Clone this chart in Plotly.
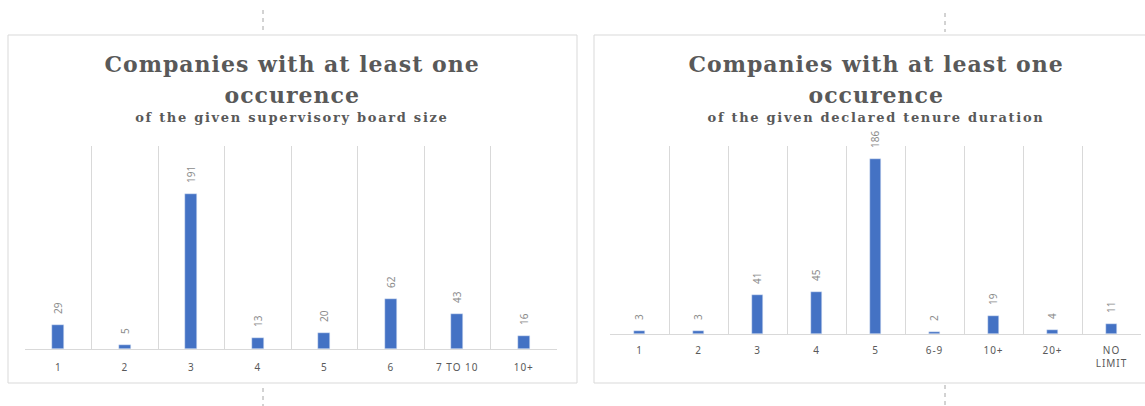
import plotly.graph_objects as go

# Supervisory board size distribution
board_sizes = ["1", "2", "3", "4", "5", "6", "7 TO 10", "10+"]
board_counts = [29, 5, 191, 13, 20, 62, 43, 16]

# Declared tenure duration distribution
tenure_labels = ["1", "2", "3", "4", "5", "6-9", "10+", "20+", "NO<br>LIMIT"]
tenure_counts = [3, 3, 41, 45, 186, 2, 19, 4, 11]

W, H = 1145, 406
BAR = "#4472C4"
GRID = "#d9d9d9"
TXT = "#595959"
LBL = "#8c8c8c"
PAD = "\u00a0\u00a0\u00a0"  # small gap between a bar top and its value label


def px_x(x):
    return x / W


def px_y(y):
    return 1 - y / H


fig = go.Figure()

fig.add_trace(go.Bar(
    x=board_sizes, y=board_counts, width=0.18, marker_color=BAR,
    text=[PAD + str(v) for v in board_counts], textposition="outside", textangle=-90,
    textfont=dict(family="Noto Sans", size=10, color=LBL), constraintext="none",
    cliponaxis=False, xaxis="x", yaxis="y", showlegend=False,
))
fig.add_trace(go.Bar(
    x=tenure_labels, y=tenure_counts, width=0.17, marker_color=BAR,
    text=[PAD + str(v) for v in tenure_counts], textposition="outside", textangle=-90,
    textfont=dict(family="Noto Sans", size=10, color=LBL), constraintext="none",
    cliponaxis=False, xaxis="x2", yaxis="y2", showlegend=False,
))

xcommon = dict(type="category", tickson="boundaries", showgrid=True, gridcolor=GRID,
               gridwidth=1, showline=True, linecolor=GRID, linewidth=1, ticks="",
               tickfont=dict(family="Noto Sans", size=10, color=TXT), zeroline=False)
ycommon = dict(showgrid=False, showticklabels=False, zeroline=False, showline=False, ticks="")

fig.update_layout(
    width=W, height=H, margin=dict(l=0, r=0, t=0, b=0),
    paper_bgcolor="white", plot_bgcolor="white",
    xaxis=dict(domain=[px_x(25), px_x(557)], anchor="y", ticklabelstandoff=9, **xcommon),
    yaxis=dict(domain=[px_y(349), px_y(146)], range=[0, 250], anchor="x", **ycommon),
    xaxis2=dict(domain=[px_x(610), px_x(1141)], anchor="y2", ticklabelstandoff=7, **xcommon),
    yaxis2=dict(domain=[px_y(334), px_y(146)], range=[0, 200], anchor="x2", **ycommon),
    bargap=0,
)

# Chart frames
shapes = [
    dict(type="rect", xref="paper", yref="paper", x0=px_x(8), x1=px_x(577),
         y0=px_y(383), y1=px_y(35), line=dict(color=GRID, width=1)),
    dict(type="rect", xref="paper", yref="paper", x0=px_x(594), x1=px_x(1160),
         y0=px_y(383), y1=px_y(35), line=dict(color=GRID, width=1)),
]
# Dashed guide marks above and below each frame
for x, ya, yb in [(263, 10, 32), (263, 388, 406), (945, 13, 32), (945, 385, 406)]:
    shapes.append(dict(type="line", xref="paper", yref="paper", x0=px_x(x), x1=px_x(x),
                       y0=px_y(ya), y1=px_y(yb),
                       line=dict(color="#a6a6a6", width=1, dash="4px,4px")))
fig.update_layout(shapes=shapes)

TITLE_FONT = dict(family="DejaVu Serif", size=22, color=TXT, weight="bold")
SUB_FONT = dict(family="DejaVu Serif", size=13, color=TXT, weight="bold")

annotations = []
for cx, sub in [(292, "of the given supervisory board size"),
                (876, "of the given declared tenure duration")]:
    annotations.append(dict(x=px_x(cx), y=px_y(64), xref="paper", yref="paper",
                            text="Companies with at least one", showarrow=False,
                            font=TITLE_FONT, xanchor="center", yanchor="middle"))
    annotations.append(dict(x=px_x(cx), y=px_y(95), xref="paper", yref="paper",
                            text="occurence", showarrow=False,
                            font=TITLE_FONT, xanchor="center", yanchor="middle"))
    annotations.append(dict(x=px_x(cx), y=px_y(118), xref="paper", yref="paper",
                            text=sub, showarrow=False,
                            font=SUB_FONT, xanchor="center", yanchor="middle"))
fig.update_layout(annotations=annotations)

# Letter spacing for titles and category labels
post_script = """
var gd = document.getElementById('{plot_id}');
function spaceText() {
  gd.querySelectorAll('.annotation-text').forEach(function (t) {
    var fs = parseFloat(t.style.fontSize);
    t.style.letterSpacing = fs > 16 ? '1px' : '1.7px';
  });
  gd.querySelectorAll('.xtick text, .x2tick text').forEach(function (t) {
    t.style.letterSpacing = '1px';
  });
}
spaceText();
gd.on('plotly_afterplot', spaceText);
"""

fig.write_html("out.html", post_script=post_script)
